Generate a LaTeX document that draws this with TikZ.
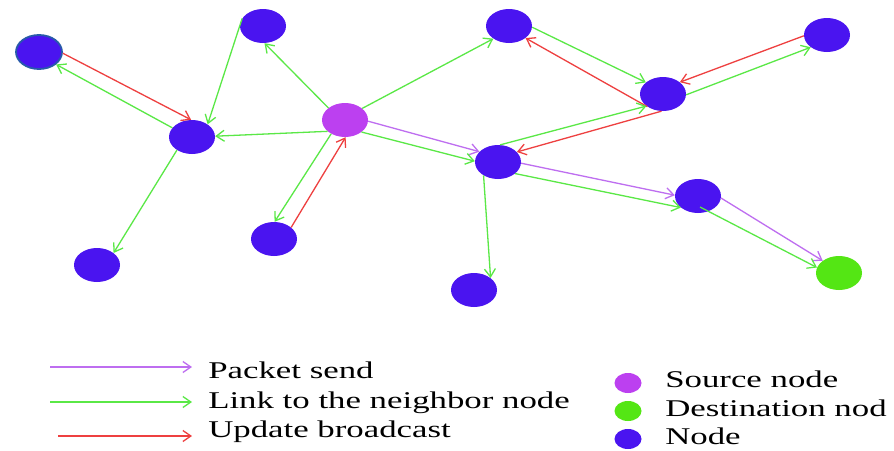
\documentclass[tikz,border=0pt]{standalone}
\usepackage{fontspec}
\setmainfont{Liberation Serif}
\usetikzlibrary{shapes.geometric,arrows.meta,calc}

\definecolor{nodeblue}{RGB}{74,20,240}
\definecolor{srcpurple}{RGB}{188,64,240}
\definecolor{dstgreen}{RGB}{84,230,20}
\definecolor{linkgreen}{RGB}{90,232,70}
\definecolor{updred}{RGB}{238,64,64}
\definecolor{sendpurple}{RGB}{190,110,240}
\definecolor{rimblue}{RGB}{40,90,170}

\begin{document}
\begin{tikzpicture}[x=1pt,y=-1pt,
  vertex/.style={ellipse, fill=nodeblue, minimum width=46pt, minimum height=34pt, inner sep=0pt},
  source/.style={vertex, fill=srcpurple},
  dest/.style={vertex, fill=dstgreen},
  edge/.style={line width=1.3pt, -{Straight Barb[length=8pt,width=11pt]}},
  link/.style={edge, draw=linkgreen},
  update/.style={edge, draw=updred},
  send/.style={edge, draw=sendpurple},
  dot/.style={ellipse, minimum width=27pt, minimum height=20pt, inner sep=0pt},
  legtext/.style={anchor=base west, font=\fontsize{24}{28}\selectfont, xscale=1.45, inner sep=0pt},
]
\useasboundingbox (0,0) rectangle (894,450);
\fill[white] (0,0) rectangle (894,450);

% network nodes
\node[vertex, draw=rimblue, line width=1.8pt] (A) at (39,52) {};
\node[vertex] (B) at (263,26) {};
\node[vertex] (C) at (192,137) {};
\node[source] (S) at (345,120) {};
\node[vertex] (D) at (509,26) {};
\node[vertex] (E) at (663,94) {};
\node[vertex] (F) at (827,35) {};
\node[vertex] (G) at (498,162) {};
\node[vertex] (H) at (698,196) {};
\node[dest]   (T) at (839,273) {};
\node[vertex] (I) at (474,290) {};
\node[vertex] (J) at (97,265) {};
\node[vertex] (K) at (274,239) {};

% links, updates and packet path
\draw[update] (A.-3) -- (C.93);
\draw[link] (C.155) -- (A.-36);
\draw[link] (B.160) -- (C.39);
\draw[link] (S.144) -- (B.-85);
\draw[link] (S.213) -- (C.2);
\draw[link] (S.34) -- (D.219);
\draw[send] (S.-3) -- (G.151);
\draw[link] (S.-36) -- (G.178);
\draw[link] (S.225) -- (K.88);
\draw[update] (K.34) -- (S.-88);
\draw[link] (C.221) -- (J.36);
\draw[link] (D.-3) -- (E.146);
\draw[update] (E.219) -- (D.-36);
\draw[update] (F.182) -- (E.35);
\draw[link] (E.-2) -- (F.217);
\draw[link] (G.83) -- (E.216);
\draw[update] (E.-95) -- (G.28);
\draw[send] (G.-3) -- (H.178);
\draw[link] (G.-34) -- (H.214);
\draw[send] (H.-5) -- (T.143);
\draw[link] ([shift={(2,11)}]H.center) -- (T.166);
\draw[link] (G.223) -- (I.36);

% legend: connector kinds
\coordinate (p0) at (50,367);  \coordinate (p1) at (192,367);
\coordinate (g0) at (50,402);  \coordinate (g1) at (192,402);
\coordinate (r0) at (58,436);  \coordinate (r1) at (192,436);
\draw[send] (p0) -- (p1);
\draw[link] (g0) -- (g1);
\draw[update] (r0) -- (r1);
\node[legtext] (lp) at (208,378) {Packet send};
\node[legtext] (lg) at (208,408) {Link to the neighbor node};
\node[legtext] (lr) at (208,437) {Update broadcast};

% legend: node kinds
\node[dot, fill=srcpurple] (ds) at (628,383) {};
\node[dot, fill=dstgreen]  (dd) at (628,411) {};
\node[dot, fill=nodeblue]  (dn) at (628,439) {};
\node[legtext] (ls) at (665,387) {Source node};
\node[legtext] (ld) at (665,416) {Destination nod};
\node[legtext] (ln) at (665,444) {Node};
\end{tikzpicture}
\end{document}
